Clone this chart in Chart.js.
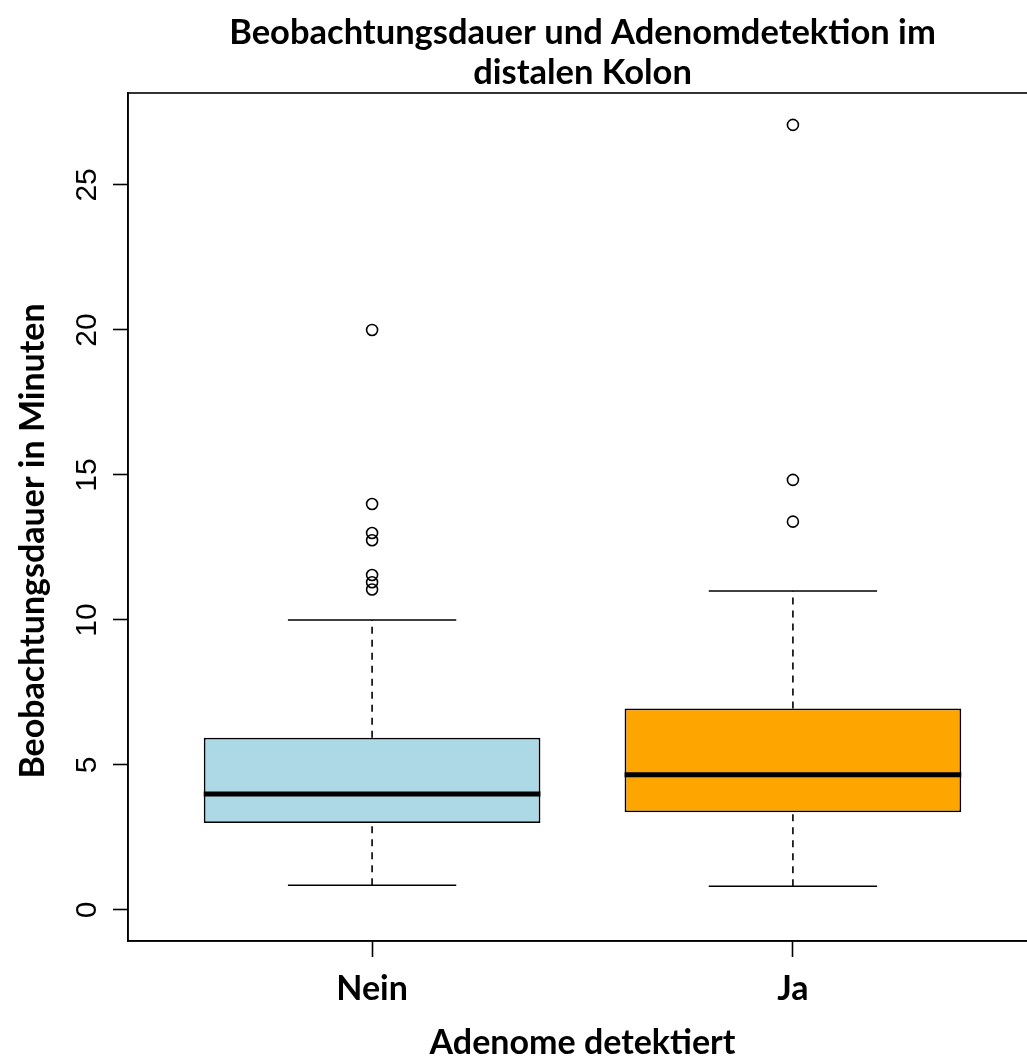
<!DOCTYPE html>
<html>
<head>
<meta charset="utf-8">
<title>Beobachtungsdauer und Adenomdetektion</title>
<script src="https://cdn.jsdelivr.net/npm/chart.js@4.4.1/dist/chart.umd.min.js"></script>
<style>
  html, body { margin: 0; padding: 0; background: #ffffff; overflow: hidden; }
  #wrap { width: 1060px; height: 1063px; }
</style>
</head>
<body>
<div id="wrap"><canvas id="c" width="1060" height="1063"></canvas></div>
<script>
// Five-number summaries per group (minutes)
const categories  = ['Nein', 'Ja'];
const whiskerLow  = [0.85, 0.82];
const quartile1   = [3.0, 3.37];
const medians     = [4.0, 4.66];
const quartile3   = [5.94, 6.95];
const whiskerHigh = [10.0, 11.0];

// Points beyond the whiskers
const outliersNein = [20.0, 14.0, 13.0, 12.75, 11.55, 11.3, 11.05];
const outliersJa   = [27.07, 14.83, 13.39];

const yTickValues = [0, 5, 10, 15, 20, 25];
const yTickLabels = ['0', '5', '10', '15', '20', '25'];

const chartTitle = ['Beobachtungsdauer und Adenomdetektion im', 'distalen Kolon'];
const xAxisTitle = 'Adenome detektiert';
const yAxisTitle = 'Beobachtungsdauer in Minuten';

// Styling
const boxFills = ['#ADD8E6', '#FFA500'];
const BOX_HALF = 0.4;
const CAP_HALF = 0.2;
const boldFont = { family: 'Lato', weight: 'bold', size: 34 };

const outlierGroups = [outliersNein, outliersJa];

function segment(x1, y1, x2, y2, extra) {
  return Object.assign({
    type: 'line',
    data: [{ x: x1, y: y1 }, { x: x2, y: y2 }],
    borderColor: '#000000',
    borderWidth: 1.6,
    pointRadius: 0,
    fill: false,
    tension: 0
  }, extra || {});
}

const datasets = [];

// Boxes (Q1..Q3) as floating bars
datasets.push({
  type: 'bar',
  data: categories.map((c, i) => ({ x: i + 1, y: [quartile1[i], quartile3[i]] })),
  backgroundColor: boxFills,
  borderColor: '#000000',
  borderWidth: 1.8,
  borderSkipped: false,
  barPercentage: 0.8,
  categoryPercentage: 1,
  order: 5
});

categories.forEach((c, i) => {
  const x = i + 1;
  // dashed whiskers
  datasets.push(segment(x, quartile3[i], x, whiskerHigh[i], { borderDash: [7, 6], order: 4 }));
  datasets.push(segment(x, whiskerLow[i], x, quartile1[i], { borderDash: [7, 6], order: 4 }));
  // whisker caps
  datasets.push(segment(x - CAP_HALF, whiskerHigh[i], x + CAP_HALF, whiskerHigh[i], { order: 3 }));
  datasets.push(segment(x - CAP_HALF, whiskerLow[i], x + CAP_HALF, whiskerLow[i], { order: 3 }));
  // median
  datasets.push(segment(x - BOX_HALF, medians[i], x + BOX_HALF, medians[i], { borderWidth: 5, borderCapStyle: 'butt', order: 1 }));
  // outliers
  datasets.push({
    type: 'line',
    showLine: false,
    data: outlierGroups[i].map(v => ({ x: x, y: v })),
    pointStyle: 'circle',
    pointRadius: 5.5,
    pointBorderWidth: 1.6,
    pointBorderColor: '#000000',
    pointBackgroundColor: 'rgba(0,0,0,0)',
    order: 0
  });
});

// Frame, rotated y tick labels and y axis title
const axisText = {
  id: 'axisText',
  afterDraw(chart) {
    const { ctx, chartArea, scales } = chart;
    const y = scales.y;
    ctx.save();
    ctx.strokeStyle = '#000000';
    ctx.lineWidth = 1.6;
    ctx.strokeRect(chartArea.left, chartArea.top, chartArea.right - chartArea.left, chartArea.bottom - chartArea.top);

    ctx.fillStyle = '#000000';
    ctx.textAlign = 'center';
    ctx.textBaseline = 'middle';
    ctx.font = '30px "Liberation Sans", Arial, sans-serif';
    y.ticks.forEach((t, i) => {
      const py = y.getPixelForValue(t.value);
      ctx.save();
      ctx.translate(chartArea.left - 40, py);
      ctx.rotate(-Math.PI / 2);
      ctx.fillText(yTickLabels[i], 0, 0);
      ctx.restore();
    });

    ctx.font = 'bold 34px Lato, "Open Sans", sans-serif';
    ctx.save();
    ctx.translate(33, (chartArea.top + chartArea.bottom) / 2 + 24);
    ctx.rotate(-Math.PI / 2);
    ctx.fillText(yAxisTitle, 0, 0);
    ctx.restore();
    ctx.restore();
  }
};

new Chart(document.getElementById('c'), {
  type: 'bar',
  data: { datasets },
  plugins: [axisText],
  options: {
    responsive: false,
    animation: false,
    devicePixelRatio: 1,
    layout: { padding: { top: 0, left: 0, right: 23, bottom: 0 } },
    plugins: {
      legend: { display: false },
      tooltip: { enabled: false },
      title: {
        display: true,
        text: chartTitle,
        fullSize: false,
        color: '#000000',
        font: { family: 'Lato', weight: 'bold', size: 34.5, lineHeight: 40 / 34.5 },
        padding: { top: 13, bottom: 0 }
      }
    },
    scales: {
      x: {
        type: 'linear',
        offset: false,
        min: 0.42,
        max: 2.58,
        afterBuildTicks: s => { s.ticks = categories.map((c, i) => ({ value: i + 1 })); },
        afterFit: s => { s.height = 122; },
        ticks: {
          callback: (v, idx) => categories[idx],
          color: '#000000',
          font: boldFont,
          padding: 12,
          autoSkip: false,
          maxRotation: 0
        },
        grid: { offset: false, drawOnChartArea: false, drawTicks: true, tickLength: 16, tickColor: '#000000', tickWidth: 1.6 },
        border: { display: true, color: '#000000', width: 1.6 },
        title: { display: true, text: xAxisTitle, color: '#000000', font: boldFont, padding: { top: 0, bottom: 0 } }
      },
      y: {
        type: 'linear',
        min: -1.07,
        max: 28.17,
        afterBuildTicks: s => { s.ticks = yTickValues.map(v => ({ value: v })); },
        afterFit: s => { s.width = 128; },
        ticks: { display: false },
        grid: { drawOnChartArea: false, drawTicks: true, tickLength: 15, tickColor: '#000000', tickWidth: 1.6 },
        border: { display: true, color: '#000000', width: 1.6 }
      }
    }
  }
});
</script>
</body>
</html>
